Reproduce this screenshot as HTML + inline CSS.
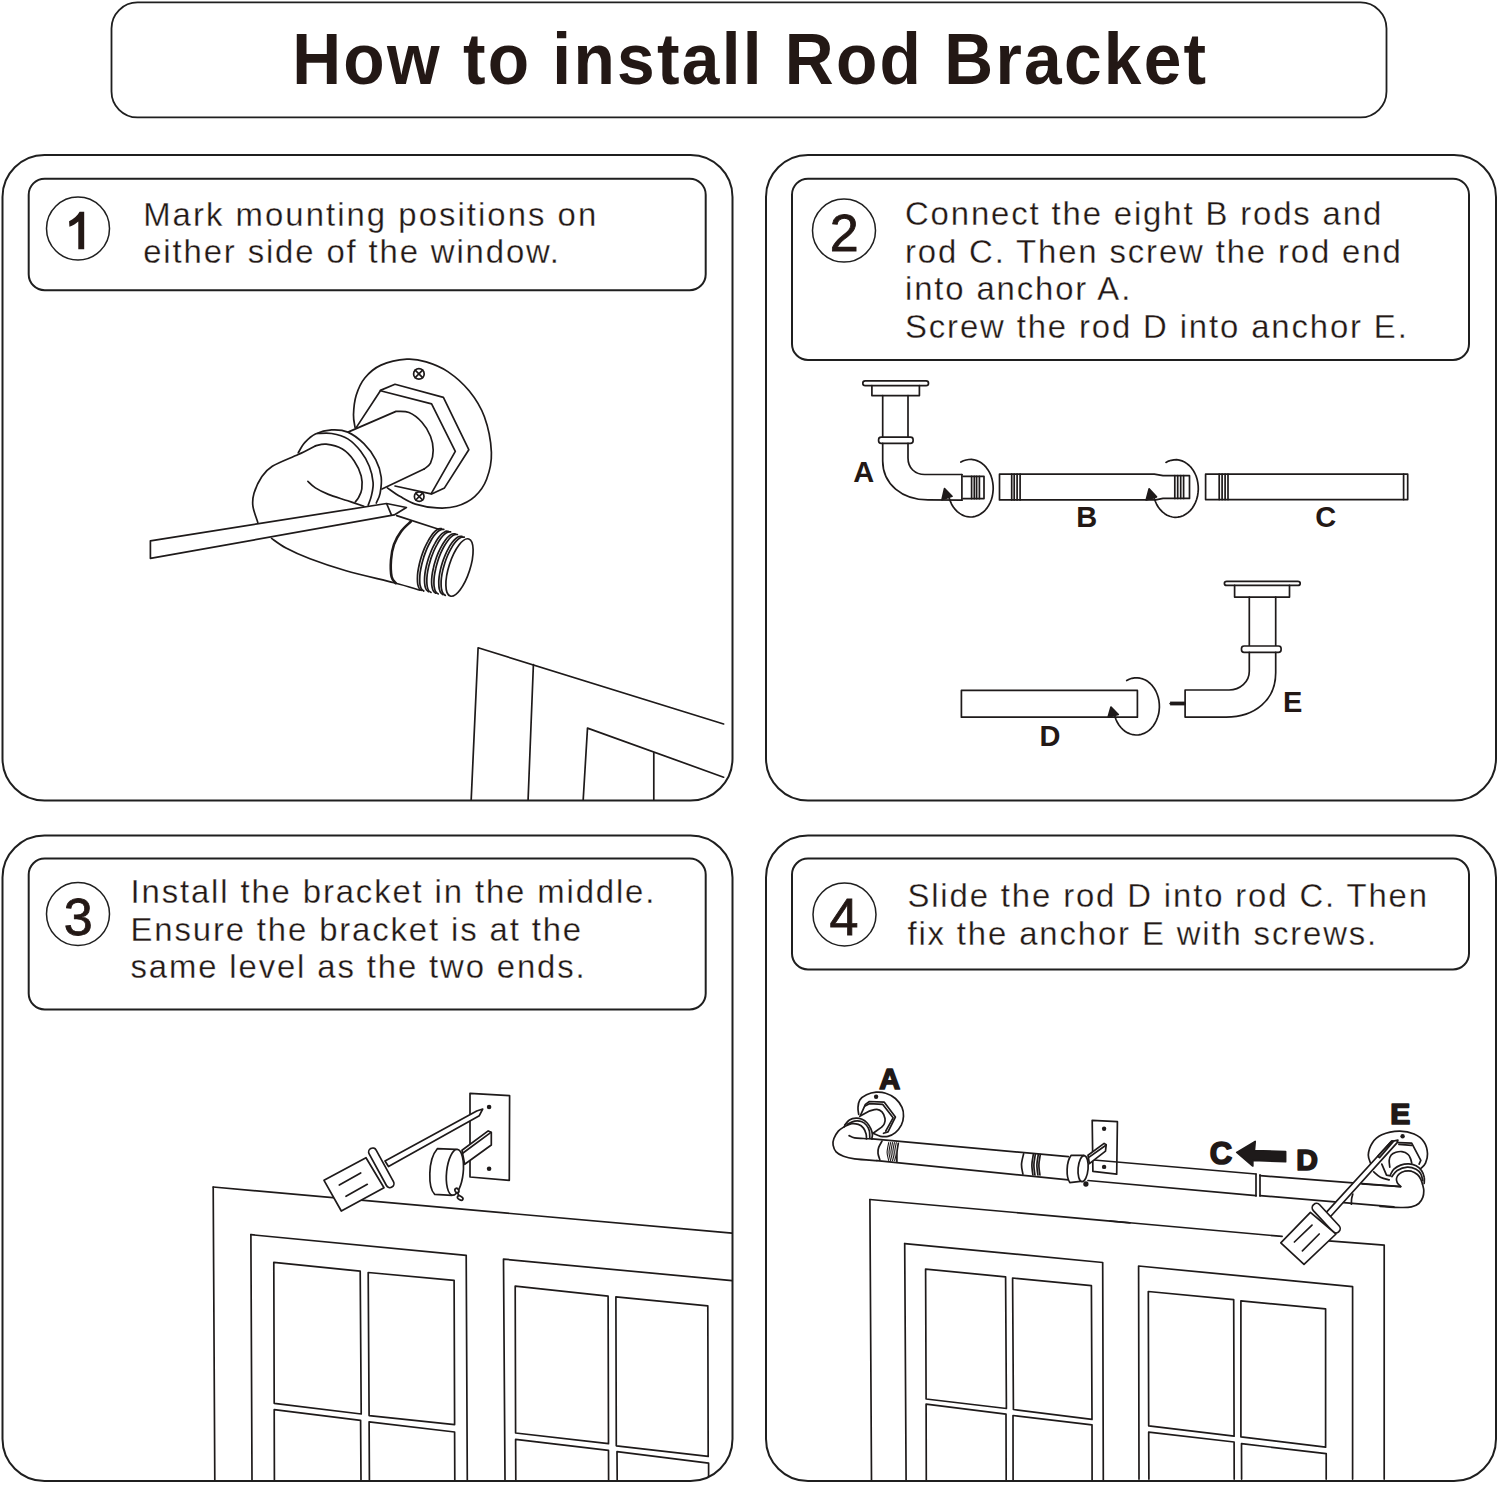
<!DOCTYPE html>
<html><head><meta charset="utf-8">
<style>
html,body{margin:0;padding:0;background:#fff;width:1500px;height:1485px;overflow:hidden}
svg{display:block}
text{font-family:"Liberation Sans",sans-serif;fill:#231815}
.t{font-size:33.8px;letter-spacing:1.92px;stroke:#fff;stroke-width:0.3px}
.n{font-size:52px;stroke:#231815;stroke-width:0.8px}
</style></head><body>
<svg width="1500" height="1485" viewBox="0 0 1500 1485">
<g fill="none" stroke="#1f1f1f" stroke-width="2">
<rect x="111.5" y="2.4" width="1275" height="115" rx="26" stroke-width="1.8"/>
<rect x="2.5" y="155" width="730" height="645.5" rx="42"/>
<rect x="766" y="155" width="730" height="645.5" rx="42"/>
<rect x="2.5" y="835.5" width="730" height="645.5" rx="42"/>
<rect x="766" y="835.5" width="730" height="645.5" rx="42"/>
<rect x="28.7" y="178.7" width="677" height="111.5" rx="16"/>
<rect x="792" y="178.7" width="677" height="181.3" rx="16"/>
<rect x="28.7" y="858.5" width="677" height="151" rx="16"/>
<rect x="792" y="858.5" width="677" height="111" rx="16"/>
<g stroke-width="1.5">
<circle cx="78" cy="228.5" r="31.5"/>
<circle cx="844" cy="230.6" r="31.5"/>
<circle cx="78" cy="914" r="31.5"/>
<circle cx="844.5" cy="914.5" r="31.5"/>
</g>
</g>
<text x="0" y="84.4" text-anchor="middle" font-weight="bold" font-size="73" style="letter-spacing:2.45px" transform="translate(750.3 0) scale(0.927 1)">How to install Rod Bracket</text>
<path d="M78.3 249.3 L84.2 249.3 L84.2 211.8 L79.6 211.8 C77.5 215.5 74 218.8 69.1 221.3 L69.4 226.8 C73 225.5 76 223.8 78.3 221.6 Z" fill="#231815"/>
<g class="n">
<text x="844.3" y="250.9" text-anchor="middle">2</text>
<text x="78.2" y="934.8" text-anchor="middle">3</text>
<text x="844" y="934.5" text-anchor="middle">4</text>
</g>
<g class="t">
<text x="0" y="0" transform="translate(143.2 225.9) scale(0.973 1)" style="letter-spacing:2.1px">Mark mounting positions on</text>
<text x="0" y="0" transform="translate(143.2 263.2) scale(0.973 1)">either side of the window.</text>
<text x="0" y="0" transform="translate(905 225.2) scale(0.973 1)">Connect the eight B rods and</text>
<text x="0" y="0" transform="translate(905 262.7) scale(0.973 1)">rod C. Then screw the rod end</text>
<text x="0" y="0" transform="translate(905 300.3) scale(0.973 1)">into anchor A.</text>
<text x="0" y="0" transform="translate(905 337.5) scale(0.973 1)">Screw the rod D into anchor E.</text>
<text x="0" y="0" transform="translate(130.5 903.1) scale(0.973 1)">Install the bracket in the middle.</text>
<text x="0" y="0" transform="translate(130.5 940.6) scale(0.973 1)">Ensure the bracket is at the</text>
<text x="0" y="0" transform="translate(130.5 978) scale(0.973 1)">same level as the two ends.</text>
<text x="0" y="0" transform="translate(907.4 907.3) scale(0.973 1)">Slide the rod D into rod C. Then</text>
<text x="0" y="0" transform="translate(907.4 944.9) scale(0.973 1)">fix the anchor E with screws.</text>
</g>
<!-- ILLUSTRATIONS -->
<defs><clipPath id="cp1"><rect x="2.5" y="155" width="730" height="645.5" rx="42"/></clipPath><clipPath id="cp3"><rect x="2.5" y="835.5" width="730" height="645.5" rx="42"/></clipPath><clipPath id="cp4"><rect x="766" y="835.5" width="730" height="645.5" rx="42"/></clipPath></defs>
<g fill="none" stroke="#1e1a1a" stroke-width="1.7" stroke-linejoin="round" stroke-linecap="round" clip-path="url(#cp1)">
<path d="M355.1 427.6 C354.8 425.5 353.3 420.1 353.5 414.7 C353.7 409.3 354.3 401.4 356.2 395.3 C358.1 389.2 360.7 383 364.8 378 C368.9 373 374 368.2 381 365.1 C388 362 399.3 359.7 406.8 359.2 C414.3 358.7 419.4 359.8 426.2 361.9 C433 364 440.6 366.8 447.8 371.6 C455 376.5 463.2 383.5 469.3 391 C475.4 398.5 480.7 406.6 484.4 416.8 C488.1 427 491 442 491.4 452.4 C491.8 462.8 489.4 471.9 486.6 479.3 C483.8 486.7 479.7 492.1 474.7 496.6 C469.7 501.1 462.7 504.4 456.4 506.3 C450.1 508.2 443.8 508.3 437 507.9 C430.2 507.5 421.5 506 415.4 504.1 C409.3 502.2 405 499.3 400.3 496.6 C395.6 493.9 389.5 489.3 387.4 487.9"/>
<circle cx="418.9" cy="373.9" r="5.3"/>
<path d="M415.2 370.2 L422.6 377.6"/>
<path d="M415.2 377.6 L422.6 370.2"/>
<circle cx="419.2" cy="496.6" r="4.8"/>
<path d="M415.8 493.2 L422.6 500"/>
<path d="M415.8 500 L422.6 493.2"/>
<path d="M380.4 390.4 L395 384.3 L443.4 397.4 L468.8 449.7 L444.5 487.9 L431.6 493.9"/>
<path d="M356.2 427.6 L380.4 390.7 L431.6 403.9 L455.3 451.3 L431.1 493.9 L395 486"/>
<path d="M382 489 L424.1 469.1"/>
<path d="M348.6 431.9 L396 411.4  C398.2 411.6 404.7 410.7 409 412.5 C413.3 414.3 418.3 418.2 421.9 422.2 C425.5 426.1 428.6 431.5 430.5 436.2 C432.4 440.9 433.2 445.7 433.2 450.2 C433.2 454.7 432 460 430.5 463.1 C429 466.2 425.2 468.1 424.1 469.1"/>
<path d="M298.2 452.9 C299.3 451.2 301.8 445.8 304.7 442.6 C307.6 439.5 310.9 436.1 315.4 434 C319.9 431.9 326.2 430.2 331.6 429.9 C337 429.6 342.4 429.8 347.8 432.1 C353.2 434.4 359.2 439.1 363.9 443.7 C368.6 448.3 372.9 454.3 375.8 459.9 C378.7 465.5 380.5 471.5 381.2 477.1 C381.9 482.7 380.9 489 380.1 493.3 C379.3 497.6 376.9 501.4 376.3 503"/>
<path d="M317.6 433.5 C319.9 433.5 326.6 432.6 331.6 433.5 C336.6 434.4 343 435.9 347.8 438.9 C352.6 441.9 357.1 446.7 360.7 451.3 C364.3 455.9 367.2 461.1 369.3 466.3 C371.4 471.5 372.7 477.6 373.1 482.5 C373.5 487.4 372.3 491.6 371.5 495.4 C370.7 499.2 368.8 503.5 368.2 505.1"/>
<path d="M315.4 445.9 C317.2 445.6 321.7 443.7 326.2 444.2 C330.7 444.7 337.7 446.3 342.4 449.1 C347.1 451.9 351.1 456.5 354.2 461 C357.3 465.5 359.9 471.3 361.2 476 C362.5 480.7 362.2 485.4 361.8 489 C361.4 492.6 359.6 495.5 358.5 497.6 C357.4 499.8 355.8 501.2 355.3 501.9"/>
<path d="M315.4 445.9 C312.5 447.3 305.4 451.1 298.2 454.5 C291 457.9 278.4 462.5 272.3 466.3 C266.2 470.1 264.7 472.6 261.6 477.1 C258.6 481.6 255.4 488.5 254 493.3 C252.6 498.1 252.3 501.4 252.9 506.2 C253.5 511 257 519.7 257.8 522.4"/>
<path d="M307.9 481.4 C309.1 482.5 312 485.7 315.4 487.9 C318.8 490.1 323 492.2 328.4 494.4 C333.8 496.5 341.9 498.8 347.8 500.8 C353.7 502.8 361.2 505.3 363.9 506.2"/>
<path d="M271.6 538.4 C274 540 279.6 544.6 286 548 C292.4 551.4 300 555 310 558.8 C320 562.6 332 566.8 346 570.8 C360 574.8 381.6 579.6 394 582.8 C406.4 586 415.8 589 420.1 590.2"/>
<path d="M396.7 515.6 L438.7 529.3"/>
<path d="M443 594.6 C442.7 594.3 441.4 593.7 440.8 592.8 C440.2 591.9 439.7 590.6 439.3 589.1 C439 587.6 438.8 585.8 438.8 583.8 C438.7 581.8 438.8 579.6 439.1 577.2 C439.4 574.9 439.8 572.4 440.4 569.9 C441 567.4 441.7 564.8 442.5 562.3 C443.3 559.7 444.3 557.2 445.3 554.8 C446.3 552.5 447.4 550.2 448.6 548.1 C449.7 546.1 450.9 544.2 452.1 542.6 C453.3 541 454.5 539.7 455.7 538.7 C456.9 537.7 458 536.9 459 536.5 C460.1 536.2 461.5 536.4 462 536.4"/>
<path d="M445.3 595.3 C445 595 443.7 594.4 443.1 593.5 C442.5 592.5 442 591.3 441.6 589.8 C441.3 588.3 441.1 586.4 441.1 584.5 C441 582.5 441.1 580.2 441.4 577.9 C441.7 575.6 442.1 573.1 442.7 570.6 C443.3 568.1 444 565.5 444.8 562.9 C445.6 560.4 446.6 557.9 447.6 555.5 C448.6 553.2 449.7 550.9 450.9 548.8 C452 546.8 453.2 544.9 454.4 543.3 C455.6 541.7 456.8 540.4 458 539.4 C459.2 538.4 460.3 537.6 461.3 537.2 C462.4 536.9 463.8 537.1 464.3 537.1"/>
<path d="M435.9 593.2 C435.5 592.9 434.2 592.3 433.6 591.3 C433 590.4 432.5 589.1 432.2 587.6 C431.8 586.1 431.6 584.2 431.6 582.2 C431.6 580.2 431.7 577.9 432 575.5 C432.3 573.2 432.8 570.6 433.4 568 C433.9 565.5 434.7 562.8 435.5 560.3 C436.3 557.7 437.3 555.1 438.3 552.7 C439.4 550.3 440.5 547.9 441.7 545.9 C442.8 543.8 444.1 541.8 445.3 540.2 C446.5 538.6 447.7 537.2 448.9 536.2 C450 535.1 451.2 534.4 452.2 534 C453.3 533.6 454.7 533.9 455.1 533.8"/>
<path d="M438.2 593.9 C437.8 593.6 436.5 592.9 435.9 592 C435.3 591.1 434.8 589.8 434.5 588.3 C434.1 586.7 433.9 584.9 433.9 582.9 C433.9 580.9 434 578.6 434.3 576.2 C434.6 573.9 435.1 571.3 435.7 568.7 C436.2 566.2 437 563.5 437.8 560.9 C438.6 558.4 439.6 555.8 440.6 553.4 C441.7 551 442.8 548.6 444 546.5 C445.1 544.5 446.4 542.5 447.6 540.9 C448.8 539.3 450 537.9 451.2 536.9 C452.3 535.8 453.5 535.1 454.5 534.7 C455.6 534.3 457 534.5 457.4 534.5"/>
<path d="M428.7 591.7 C428.3 591.4 427 590.8 426.4 589.9 C425.8 588.9 425.3 587.6 425 586.1 C424.7 584.5 424.5 582.6 424.5 580.6 C424.5 578.5 424.6 576.2 424.9 573.8 C425.2 571.4 425.7 568.8 426.3 566.2 C426.9 563.6 427.7 560.9 428.5 558.3 C429.4 555.6 430.4 553 431.4 550.5 C432.4 548.1 433.6 545.7 434.8 543.6 C435.9 541.4 437.2 539.5 438.4 537.8 C439.6 536.2 440.8 534.7 442 533.7 C443.2 532.6 444.4 531.9 445.4 531.4 C446.5 531 447.8 531.3 448.3 531.3"/>
<path d="M431 592.4 C430.6 592.1 429.3 591.5 428.7 590.6 C428.1 589.6 427.6 588.3 427.3 586.8 C427 585.2 426.8 583.3 426.8 581.3 C426.8 579.2 426.9 576.9 427.2 574.5 C427.5 572.1 428 569.5 428.6 566.9 C429.2 564.3 430 561.6 430.8 558.9 C431.7 556.3 432.7 553.7 433.7 551.2 C434.7 548.8 435.9 546.4 437.1 544.3 C438.2 542.1 439.5 540.2 440.7 538.5 C441.9 536.9 443.1 535.4 444.3 534.4 C445.5 533.3 446.7 532.5 447.7 532.1 C448.8 531.7 450.1 532 450.6 531.9"/>
<path d="M421.5 590.3 C421.1 590 419.9 589.4 419.2 588.4 C418.6 587.5 418.2 586.1 417.8 584.6 C417.5 583 417.4 581.1 417.4 579 C417.4 576.9 417.5 574.5 417.8 572.1 C418.2 569.7 418.7 567 419.3 564.3 C419.9 561.7 420.7 558.9 421.5 556.3 C422.4 553.6 423.4 550.9 424.4 548.4 C425.5 545.9 426.7 543.4 427.9 541.3 C429 539.1 430.3 537.1 431.5 535.4 C432.7 533.7 434 532.3 435.2 531.2 C436.4 530.1 437.5 529.3 438.6 528.9 C439.6 528.5 441 528.7 441.5 528.7"/>
<path d="M423.8 591 C423.4 590.7 422.2 590.1 421.5 589.1 C420.9 588.2 420.5 586.8 420.1 585.3 C419.8 583.7 419.7 581.8 419.7 579.7 C419.7 577.6 419.8 575.2 420.1 572.8 C420.5 570.3 421 567.7 421.6 565 C422.2 562.4 423 559.6 423.8 556.9 C424.7 554.3 425.7 551.6 426.7 549.1 C427.8 546.6 429 544.1 430.2 542 C431.3 539.8 432.6 537.8 433.8 536.1 C435 534.4 436.3 533 437.5 531.9 C438.7 530.8 439.8 530 440.9 529.6 C441.9 529.2 443.3 529.4 443.8 529.4"/>
<ellipse cx="459.5" cy="567.5" rx="10.5" ry="30" transform="rotate(18 459.5 567.5)" fill="#fff"/>
<path d="M410.8 521.6 C409.2 523.2 404 527.4 401.2 531.2 C398.4 535 395.7 539.6 394 544.4 C392.3 549.2 391.4 554.6 391 560 C390.6 565.4 390.8 572.9 391.6 576.8 C392.4 580.7 395.1 582.1 395.8 583.2" stroke-width="2.6"/>
<path d="M150.4 540.8 L386.5 503.5 L406.4 507.5 L394.2 514.9 L150.4 558.4Z" fill="#fff"/>
<path d="M386.8 504 L391.3 514.6"/>
<path d="M471.2 799.6 L478.1 647.8 L723.6 724"/>
<path d="M528.1 799.6 L533.4 664.6"/>
<path d="M583.2 799.6 L587.5 728.1 L723.6 777.2"/>
<path d="M653.8 752.9 L653.8 799.6"/>
</g>
<g fill="none" stroke="#1e1a1a" stroke-width="1.7" stroke-linejoin="round" stroke-linecap="round">
<rect x="862.8" y="380.8" width="65.7" height="4.8" rx="2.4" fill="#fff"/>
<path d="M871.9 385.6 L871.9 395.6 L919.4 395.6 L919.4 385.6"/>
<path d="M882.7 395.6 L882.7 437.2"/>
<path d="M908 395.6 L908 437.2"/>
<rect x="878.6" y="437.2" width="34.5" height="6.1" rx="2.6" fill="#fff"/>
<path d="M882.7 443.3 L882.7 461 C882.7 484 902 499.8 928 499.8 L961.9 500.2"/>
<path d="M908 443.3 L908 458 C908 468 915 474.5 924.7 474.5 L961.9 474.5"/>
<path d="M961.9 474.5 L961.9 500.2"/>
<path d="M963 476.3 L984 476.3 L984 498.6 L963 498.6"/>
<path d="M971.6 476.3 L971.6 498.6"/>
<path d="M974.3 476.3 L974.3 498.6"/>
<path d="M976.6 476.3 L976.6 498.6"/>
<path d="M979.4 476.3 L979.4 498.6"/>
<path d="M960.9 462.1 L963.4 460.8 L966.1 460 L968.8 459.5 L971.5 459.4 L974.2 459.8 L976.9 460.6 L979.4 461.7 L981.9 463.3 L984.1 465.2 L986.2 467.4 L988 469.9 L989.6 472.7 L991 475.7 L992 478.9 L992.7 482.3 L993.1 485.7 L993.2 489.1 L992.9 492.6 L992.4 496 L991.5 499.2 L990.3 502.3 L988.8 505.2 L987.1 507.9 L985.1 510.3 L982.9 512.3 L980.5 514 L978 515.4 L975.4 516.3 L972.7 516.9 L970 517 L967.3 516.7 L964.6 516 L962 514.9 L959.6 513.4 L957.3 511.6 L955.2 509.4 L953.3 507 L951.6 504.2 L950.3 501.2 L949.2 498.1"/>
<path d="M942 499.8 L944.5 488.6 L952 496.3Z" fill="#1e1a1a"/>
<path d="M999.5 474.2 L1154.3 474.2 L1163 475.7 L1189.5 475.7 L1189.5 498.4 L1163 498.4 L1155.7 499.9 L999.5 499.9 Z"/>
<path d="M1011.7 474.2 L1011.7 499.9"/>
<path d="M1014.2 474.2 L1014.2 499.9"/>
<path d="M1017.1 474.2 L1017.1 499.9"/>
<path d="M1020.1 474.2 L1020.1 499.9"/>
<path d="M1174.8 475.7 L1174.8 498.4"/>
<path d="M1177.7 475.7 L1177.7 498.4"/>
<path d="M1180.7 475.7 L1180.7 498.4"/>
<path d="M1183.6 475.7 L1183.6 498.4"/>
<path d="M1166 462.4 L1168.5 461.1 L1171.2 460.3 L1173.9 459.8 L1176.6 459.7 L1179.3 460.1 L1182 460.9 L1184.5 462 L1186.9 463.6 L1189.2 465.5 L1191.3 467.7 L1193.1 470.2 L1194.7 473 L1196.1 476 L1197.1 479.2 L1197.8 482.6 L1198.2 486 L1198.3 489.4 L1198 492.9 L1197.5 496.3 L1196.6 499.5 L1195.4 502.6 L1193.9 505.5 L1192.2 508.2 L1190.2 510.6 L1188 512.6 L1185.6 514.3 L1183.1 515.7 L1180.5 516.6 L1177.8 517.2 L1175.1 517.3 L1172.4 517 L1169.7 516.3 L1167.1 515.2 L1164.7 513.7 L1162.4 511.9 L1160.3 509.7 L1158.4 507.3 L1156.7 504.5 L1155.4 501.5 L1154.3 498.4"/>
<path d="M1146.2 499.9 L1149.1 488.9 L1156.5 496.9Z" fill="#1e1a1a"/>
<path d="M1205.6 474.2 L1407.7 474.2 L1407.7 499.6 L1205.6 499.6Z"/>
<path d="M1219.2 474.2 L1219.2 499.6"/>
<path d="M1222.1 474.2 L1222.1 499.6"/>
<path d="M1225.1 474.2 L1225.1 499.6"/>
<path d="M1228 474.2 L1228 499.6"/>
<path d="M1403.6 474.2 L1403.6 499.6"/>
<rect x="1224.4" y="581.4" width="75.8" height="4" rx="2.4" fill="#fff"/>
<path d="M1234.6 585.4 L1234.6 597.1 L1289.5 597.1 L1289.5 585.4"/>
<path d="M1249.3 597.1 L1249.3 646"/>
<path d="M1275.7 597.1 L1275.7 646"/>
<rect x="1241.5" y="646" width="39.6" height="6.4" rx="2.6" fill="#fff"/>
<path d="M1275.7 652.4 L1275.7 672.7 C1275.7 700 1255 717.1 1226.1 717.1 L1185.1 717.1 L1185.1 690 L1229.1 690 C1240 690 1249.3 682 1249.3 671.2 L1249.3 652.4"/>
<path d="M1170.1 703.5 L1185.1 703.5"/>
<path d="M1170.1 703.5 L1185.1 703.5" stroke-width="3.8" stroke-linecap="butt"/>
<path d="M961.4 690.4 L1137.4 690.4 L1137.4 717.2 L961.4 717.2Z"/>
<path d="M1126.7 680.5 L1129.2 679.2 L1131.9 678.3 L1134.6 677.9 L1137.4 677.8 L1140.1 678.2 L1142.8 678.9 L1145.4 680.1 L1147.9 681.6 L1150.2 683.5 L1152.3 685.7 L1154.2 688.3 L1155.8 691 L1157.1 694 L1158.2 697.2 L1158.9 700.5 L1159.3 703.9 L1159.4 707.3 L1159.1 710.8 L1158.6 714.1 L1157.6 717.3 L1156.4 720.4 L1154.9 723.3 L1153.2 726 L1151.2 728.3 L1149 730.4 L1146.6 732.1 L1144 733.4 L1141.4 734.3 L1138.7 734.9 L1135.9 735 L1133.1 734.7 L1130.4 734 L1127.8 732.9 L1125.3 731.5 L1123 729.6 L1120.9 727.5 L1118.9 725 L1117.3 722.3 L1115.9 719.3 L1114.8 716.2"/>
<path d="M1108.1 717.2 L1111 707.1 L1118.3 714.5Z" fill="#1e1a1a"/>
</g>
<text x="853.3" y="482" font-weight="bold" font-size="29">A</text>
<text x="1076.3" y="526.9" font-weight="bold" font-size="29">B</text>
<text x="1315.3" y="526.7" font-weight="bold" font-size="29">C</text>
<text x="1039.5" y="745.6" font-weight="bold" font-size="29">D</text>
<text x="1283" y="712" font-weight="bold" font-size="29">E</text>
<g fill="none" stroke="#1e1a1a" stroke-width="1.7" stroke-linejoin="round" stroke-linecap="round" clip-path="url(#cp3)">
<path d="M213.2 1187 L214.8 1479.7"/>
<path d="M213.2 1187 L732 1233.2"/>
<path d="M250.9 1234.7 L252 1479.7"/>
<path d="M250.9 1234.7 L466.2 1255.3 L467.3 1479.7"/>
<path d="M273.8 1262.3 L360.2 1271.2 L361.2 1414 L274.2 1403.3Z"/>
<path d="M368.2 1272.5 L454.1 1280.3 L454.6 1424.6 L369.1 1415.6Z"/>
<path d="M274.4 1479.7 L274.2 1409.7 L360.6 1420.3 L361 1479.7"/>
<path d="M369.4 1479.7 L369.1 1421.8 L454.6 1432 L454.8 1479.7"/>
<path d="M505 1479.7 L503.5 1259.1 L732 1280.7"/>
<path d="M515.2 1286.2 L608.1 1296.2 L608.5 1443.7 L515.6 1433Z"/>
<path d="M615.9 1296.9 L707.8 1305.8 L708.2 1456.4 L616.3 1445.8Z"/>
<path d="M515.8 1479.7 L515.6 1439.4 L608.5 1450.4 L608.6 1479.7"/>
<path d="M617.2 1479.7 L617 1451.7 L708.6 1463.2 L708.6 1479.7"/>
<path d="M470 1093.3 L509.6 1095.7 L509.3 1180.3 L470 1177Z" fill="#fff"/>
<circle cx="489.1" cy="1107" r="2.3" fill="#1e1a1a" stroke="none"/>
<circle cx="489.1" cy="1168.7" r="2.3" fill="#1e1a1a" stroke="none"/>
<path d="M462 1150.3 L488.2 1130.9 L491.3 1132.3 L491.3 1145 L464.7 1164.3Z" fill="#fff"/>
<path d="M463 1153 L490.6 1132.6"/>
<path d="M437.3 1148.7 L456 1149.4 L452 1195.4 L434.7 1194.3 C428 1188 427.5 1160 437.3 1148.7 Z" fill="#fff"/>
<ellipse cx="454.9" cy="1172.3" rx="8.3" ry="23" transform="rotate(6 454.9 1172.3)" fill="#fff"/>
<ellipse cx="456.9" cy="1190.6" rx="1.8" ry="2.4" transform="rotate(-30 456.9 1190.6)" fill="#fff"/>
<path d="M457.3 1192.5 L460 1197.5"/>
<ellipse cx="460.2" cy="1198" rx="3" ry="1.8" transform="rotate(30 460.2 1198)" fill="#fff"/>
<path d="M324 1180.3 L366 1157.7 L384 1187.7 L341.3 1211Z" fill="#fff"/>
<path d="M339.3 1185 L360.7 1173"/>
<path d="M346 1196.3 L367.3 1184.3"/>
<rect x="377.3" y="1145.8" width="8" height="44" rx="4" transform="rotate(-28.7 381.3 1167.8)" fill="#fff"/>
<path d="M385 1161 L476.7 1111 L482.7 1109 L479.3 1115.7 L388.5 1166.5Z" fill="#fff"/>
</g>
<g fill="none" stroke="#1e1a1a" stroke-width="1.7" stroke-linejoin="round" stroke-linecap="round" clip-path="url(#cp4)">
<path d="M869.9 1199.5 L871.5 1480"/>
<path d="M869.9 1199.5 L1130 1222.8"/>
<path d="M904.7 1243.6 L906.1 1480"/>
<path d="M904.7 1243.6 L1102.7 1262.5 L1103.3 1480"/>
<path d="M925.6 1269.1 L1005.6 1276.8 L1006.4 1408.5 L926.1 1399Z"/>
<path d="M1012.6 1278 L1091.4 1285.7 L1092 1419.4 L1013.4 1409.5Z"/>
<path d="M926.3 1480 L926.1 1404.1 L1006 1414.1 L1006.2 1480"/>
<path d="M1013.1 1480 L1013 1415.5 L1092 1424.8 L1092.1 1480"/>
<path d="M1110 1221 L1282.1 1236.4"/>
<path d="M1328.5 1240.9 L1384.2 1245.1 L1384.2 1479.1"/>
<path d="M1139 1479.1 L1138.6 1266 L1352.6 1286.7 L1352.6 1479.1"/>
<path d="M1148.3 1291.5 L1233.7 1299.7 L1234.1 1436.2 L1148.7 1425.9Z"/>
<path d="M1240.9 1300.8 L1325.6 1308.9 L1325.6 1447.2 L1240.9 1436.9Z"/>
<path d="M1148.9 1479.1 L1148.7 1432.1 L1234.1 1442 L1234.2 1479.1"/>
<path d="M1241.6 1479.1 L1241.5 1443.7 L1326.2 1453.6 L1326.2 1479.1"/>
<path d="M872.4 1138.9 L1068.4 1156.7"/>
<path d="M876.9 1160.7 L1068.4 1179.8"/>
<path d="M1088 1159.5 L1256 1174"/>
<path d="M1088 1180.5 L1256 1195.6"/>
<path d="M1256 1174 L1256 1196"/>
<path d="M1260 1174.8 L1260 1196"/>
<path d="M1260 1175.6 L1400.6 1186.7"/>
<path d="M1260 1195.6 L1393.9 1206.9"/>
<path d="M858.7 1114.4 C858.6 1113.2 857.8 1109.8 858 1107.4 C858.2 1105 858.4 1102.1 859.8 1100 C861.2 1097.9 863.8 1096.1 866.5 1094.8 C869.2 1093.5 872.9 1092.5 876.1 1092.2 C879.3 1092 882.5 1092.2 885.7 1093.3 C888.9 1094.3 892.7 1096.2 895.4 1098.5 C898.1 1100.8 900.6 1104.4 902 1107.4 C903.4 1110.4 903.6 1113.3 903.5 1116.3 C903.4 1119.3 902.6 1122.5 901.3 1125.2 C899.9 1127.9 897.6 1130.8 895.4 1132.6 C893.2 1134.4 890.5 1135.7 888 1136.3 C885.5 1136.9 883.1 1136.8 880.6 1136.3 C878.1 1135.8 874.4 1133.8 873.1 1133.3"/>
<circle cx="876.1" cy="1096.7" r="2.2" fill="#1e1a1a" stroke="none"/>
<path d="M860.6 1115.2 L865.4 1104.4 L869.4 1101.5 L884.3 1102.2 L895.4 1117 L888 1131.9 L883.5 1133.3"/>
<path d="M865 1105.9 L869.4 1103.7 L882.8 1104.4 L893.1 1117.8 L885.7 1131.1"/>
<path d="M859.8 1116.3 L869.4 1111.1  C870.6 1110.8 874.8 1109.2 876.9 1109.3 C879 1109.4 880.6 1110.4 882 1111.9 C883.4 1113.4 884.6 1116.5 885 1118.5 C885.4 1120.5 884.9 1122.2 884.3 1123.7 C883.7 1125.2 881.8 1126.8 881.3 1127.4 L873.1 1133.3"/>
<path d="M844.6 1125.2 C845.4 1124.3 847.5 1121.2 849.4 1120 C851.3 1118.8 854 1118.2 856.1 1118.1 C858.2 1118 860.1 1118.5 862 1119.3 C863.9 1120.1 865.7 1121.4 867.2 1123 C868.7 1124.6 870 1126.9 870.9 1128.9 C871.8 1130.9 872.3 1133.1 872.4 1134.8 C872.5 1136.5 871.8 1138.2 871.7 1138.9"/>
<path d="M847.2 1124.4 C848.4 1123.9 852.2 1121.6 854.6 1121.1 C857 1120.6 859.3 1120.8 861.3 1121.5 C863.3 1122.2 865.1 1123.6 866.5 1125.2 C867.9 1126.8 868.9 1128.9 869.4 1131.1 C869.9 1133.3 869.7 1137.3 869.8 1138.5"/>
<path d="M844.3 1126.7 C845.5 1126.2 849.4 1124.1 851.7 1123.7 C854 1123.3 856.3 1123.7 858.3 1124.4 C860.3 1125.1 862.2 1126.5 863.5 1128.1 C864.8 1129.7 865.6 1132.3 866.1 1134.1 C866.6 1135.9 866.4 1138.1 866.5 1138.9"/>
<path d="M844.3 1126.7 C843.3 1127.4 840 1129.1 838.3 1131.1 C836.6 1133.1 834.8 1136.2 833.9 1138.5 C833 1140.8 832.7 1143 833.1 1145.2 C833.5 1147.4 834.4 1150.1 836.1 1151.9 C837.8 1153.8 840.4 1155.1 843.5 1156.3 C846.6 1157.5 849 1158.2 854.6 1158.9 C860.2 1159.6 873.2 1160.4 876.9 1160.7"/>
<path d="M849.1 1135.6 C850 1136 852.2 1137.3 854.6 1137.8 C857 1138.3 860.5 1138.3 863.5 1138.5 C866.5 1138.7 870.9 1138.8 872.4 1138.9"/>
<path d="M882 1141.1 C881.5 1142.1 879.4 1145.4 878.7 1147.4 C878 1149.4 877.8 1151.3 878 1153.3 C878.2 1155.3 879.5 1158.5 879.8 1159.6"/>
<path d="M888.7 1142.6 C888.4 1144.2 887.1 1149.4 887.1 1152.4 C887.1 1155.4 888.4 1159.2 888.7 1160.6" stroke-width="1.1"/>
<path d="M890.6 1142.6 C890.3 1144.2 889 1149.4 889 1152.4 C889 1155.4 890.3 1159.2 890.6 1160.6" stroke-width="1.1"/>
<path d="M892.5 1142.6 C892.2 1144.2 890.9 1149.4 890.9 1152.4 C890.9 1155.4 892.2 1159.2 892.5 1160.6" stroke-width="1.1"/>
<path d="M894.4 1142.6 C894.1 1144.2 892.8 1149.4 892.8 1152.4 C892.8 1155.4 894.1 1159.2 894.4 1160.6" stroke-width="1.1"/>
<path d="M896.3 1142.6 C896 1144.2 894.7 1149.4 894.7 1152.4 C894.7 1155.4 896 1159.2 896.3 1160.6" stroke-width="1.1"/>
<path d="M898.3 1143.3 C898.1 1144.8 897.2 1149 897 1152 C896.8 1155 896.9 1159.9 896.9 1161.5"/>
<text x="879.3" y="1088.9" font-weight="bold" font-size="29">A</text>
<path d="M1023.6 1153.9 C1023.2 1155.7 1021.6 1161 1021.5 1164.4 C1021.4 1167.8 1022.7 1172.6 1022.9 1174.2"/>
<path d="M1033.3 1154.6 C1033.1 1156.3 1032 1161.4 1031.9 1164.8 C1031.8 1168.2 1032.7 1173.3 1032.9 1175"/>
<path d="M1035.3 1154.6 C1035.1 1156.3 1034 1161.4 1033.9 1164.8 C1033.8 1168.2 1034.7 1173.3 1034.9 1175"/>
<path d="M1038.3 1154.6 C1038.1 1156.3 1037 1161.4 1036.9 1164.8 C1036.8 1168.2 1037.7 1173.3 1037.9 1175"/>
<path d="M1040.3 1154.6 C1040.1 1156.3 1039 1161.4 1038.9 1164.8 C1038.8 1168.2 1039.7 1173.3 1039.9 1175"/>
<path d="M1092.2 1120.3 L1117.4 1121.7 L1116.7 1174.2 L1092.9 1171.4Z"/>
<circle cx="1104.1" cy="1128.7" r="2.2" fill="#1e1a1a" stroke="none"/>
<circle cx="1104.1" cy="1166.9" r="2.2" fill="#1e1a1a" stroke="none"/>
<path d="M1088 1155.3 L1104.1 1143.4 L1106.2 1144.8 L1105.5 1151.1 L1089.4 1163.7Z" fill="#fff"/>
<path d="M1088.8 1157.4 L1105.2 1145.8"/>
<path d="M1071.2 1155.3 L1083.8 1155.3 L1082.4 1181.2 L1069.8 1182.6 C1066 1177 1066 1162 1071.2 1155.3 Z" fill="#fff"/>
<ellipse cx="1083.1" cy="1168.6" rx="5" ry="13" transform="rotate(5 1083.1 1168.6)" fill="#fff"/>
<circle cx="1085.9" cy="1184" r="1.8" fill="#1e1a1a"/>
<path d="M1371 1164.4 C1370.5 1162.8 1368.1 1158.6 1368.3 1155 C1368.5 1151.4 1370 1146.3 1372.3 1142.9 C1374.5 1139.5 1377.3 1136.8 1381.8 1134.8 C1386.3 1132.8 1393.9 1131.2 1399.3 1131.1 C1404.7 1131 1409.9 1132.2 1414.1 1134.1 C1418.2 1135.9 1422 1138.9 1424.2 1142.2 C1426.4 1145.5 1427.3 1150.2 1427.5 1153.7 C1427.7 1157.2 1426.6 1160.6 1425.5 1163.1 C1424.4 1165.6 1421.6 1167.6 1420.8 1168.5"/>
<path d="M1373.7 1171.9 C1374.8 1172.8 1377.8 1175.9 1380.4 1177.2 C1383 1178.5 1387.7 1179.5 1389.2 1179.9"/>
<circle cx="1402.6" cy="1136.2" r="2.2" fill="#1e1a1a" stroke="none"/>
<path d="M1398.6 1142.6 L1411.7 1143.2 L1420.8 1160.4 L1419.1 1164.1"/>
<path d="M1398.9 1144.4 L1411.7 1145.4"/>
<path d="M1381.8 1164.1 L1386.5 1175.2 L1390.5 1175.9"/>
<path d="M1389.8 1167.1 C1389.7 1166 1389 1162.4 1389.2 1160.4 C1389.4 1158.4 1390.1 1156.3 1391.2 1155 C1392.3 1153.7 1394.1 1152.9 1395.9 1152.3 C1397.7 1151.7 1400 1151.3 1402 1151.6 C1404 1151.9 1406.5 1153 1408 1154.3 C1409.5 1155.5 1410.1 1157.6 1410.7 1159.1 C1411.3 1160.6 1411.5 1162.4 1411.7 1163.1"/>
<path d="M1390.5 1174.5 C1391.1 1173.6 1392.2 1170.8 1393.9 1169.2 C1395.6 1167.6 1398.1 1166 1400.6 1165.1 C1403.1 1164.2 1406.1 1163.7 1408.7 1163.8 C1411.3 1163.9 1414 1164.7 1416.1 1165.8 C1418.2 1166.9 1420.2 1168.6 1421.5 1170.5 C1422.8 1172.4 1423.8 1175.1 1424.2 1177.2 C1424.7 1179.3 1424.2 1182.3 1424.2 1183.3"/>
<path d="M1391.9 1176.6 C1392.8 1175.6 1394.6 1172.1 1397.2 1170.5 C1399.8 1168.9 1404.2 1167.3 1407.3 1167.1 C1410.4 1166.9 1413.8 1168.1 1416.1 1169.2 C1418.3 1170.3 1419.7 1172 1420.8 1173.9 C1421.9 1175.8 1422.5 1179.5 1422.8 1180.6"/>
<path d="M1400.6 1186.3 C1400 1185.7 1397.9 1184 1397.2 1182.6 C1396.5 1181.2 1396.2 1179.4 1396.6 1177.9 C1396.9 1176.5 1398 1175 1399.3 1173.9 C1400.6 1172.8 1402.6 1171.7 1404.6 1171.2 C1406.6 1170.8 1409.3 1170.7 1411.4 1171.2 C1413.5 1171.8 1415.8 1173.2 1417.4 1174.5 C1419 1175.8 1420 1177.7 1420.8 1179.3 C1421.6 1180.9 1422.2 1183.2 1422.5 1184"/>
<path d="M1422.5 1184 C1422.7 1185.1 1423.8 1188.5 1423.8 1190.7 C1423.8 1192.9 1423.6 1195.3 1422.8 1197.4 C1422 1199.5 1420.7 1201.9 1418.8 1203.5 C1416.9 1205.1 1414.4 1206.2 1411.4 1206.9 C1408.4 1207.6 1405.8 1207.6 1400.6 1207.5 C1395.4 1207.4 1383.4 1206.5 1380 1206.3"/>
<path d="M1362.2 1184 L1400.6 1186.7"/>
<path d="M1352.8 1194.1 C1352.6 1194.9 1351.8 1197.3 1351.6 1199 C1351.4 1200.7 1351.4 1203.3 1351.4 1204.2"/>
<text x="1209.8" y="1164.4" font-weight="bold" font-size="31">C</text>
<path d="M1236.8 1152.4 L1255.2 1141.5 L1254.4 1150.5 L1285.6 1151.6 L1285.6 1161.7 L1252.8 1160.4 L1252.8 1166Z" fill="#1e1a1a"/>
<text x="1296.2" y="1170" font-weight="bold" font-size="30">D</text>
<text x="1390.2" y="1123.6" font-weight="bold" font-size="30">E</text>
<path d="M1325.6 1213.1 L1391.2 1141.5 L1397.9 1140.2 L1397.2 1142.6 L1330.6 1216.5Z" fill="#fff"/>
<path d="M1377.7 1156.4 L1391.9 1140.9 L1393.6 1141.3 L1379.5 1157.6Z" fill="#fff"/>
<rect x="1321.9" y="1199.7" width="8.6" height="37" rx="4.2" transform="rotate(-42.8 1326.2 1218.2)" fill="#fff"/>
<path d="M1280.8 1242.8 L1310.4 1212.4 L1336 1234 L1304 1264.4Z" fill="#fff"/>
<path d="M1294.4 1242 L1312 1225.2"/>
<path d="M1302.4 1250.8 L1319.2 1234"/>
</g>
</svg>
</body></html>
